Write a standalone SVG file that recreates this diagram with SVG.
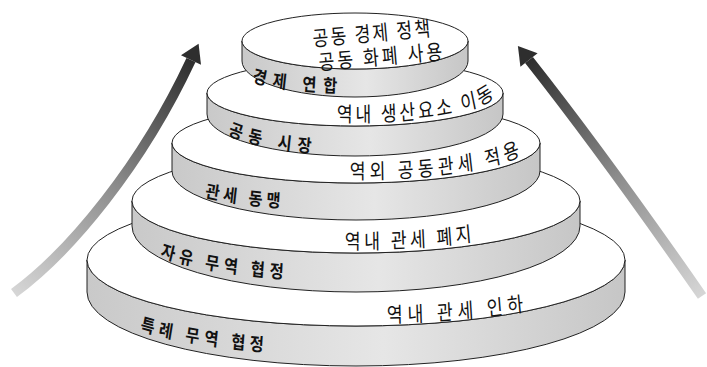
<svg xmlns="http://www.w3.org/2000/svg" width="707" height="367" viewBox="0 0 707 367">
<defs>
<style>
.side{fill:url(#sideGrad);stroke:#222;stroke-width:1}
.top{fill:#fff;stroke:#222;stroke-width:1}
.face{font-family:"Noto Sans CJK KR","Noto Sans",sans-serif;font-size:21px;fill:#111}
.lbl{font-family:"Noto Sans CJK KR","Noto Sans",sans-serif;font-size:18px;font-weight:bold;fill:#111}
.band{fill:none;stroke-width:10;stroke-linecap:butt}
.head{fill:#2e2e2e}
</style>
<linearGradient id="sideGrad" x1="0" y1="0" x2="1" y2="0">
<stop offset="0" stop-color="#c9c9c9"/>
<stop offset="0.55" stop-color="#e6e6e6"/>
<stop offset="1" stop-color="#c6c6c6"/>
</linearGradient>
<linearGradient id="gL" gradientUnits="userSpaceOnUse" x1="14" y1="293" x2="191" y2="60">
<stop offset="0" stop-color="#d6d6d6"/>
<stop offset="0.5" stop-color="#8c8c8c"/>
<stop offset="1" stop-color="#2e2e2e"/>
</linearGradient>
<linearGradient id="gR" gradientUnits="userSpaceOnUse" x1="702" y1="296" x2="529" y2="60">
<stop offset="0" stop-color="#d6d6d6"/>
<stop offset="0.5" stop-color="#8c8c8c"/>
<stop offset="1" stop-color="#2e2e2e"/>
</linearGradient>
<path id="p1a" d="M 471.95 322.6 A 353.66 64 0 0 0 731.71 293.6"/>
<path id="p1b" d="M 164.71 330.4 A 316.47 61 0 0 0 418.82 355"/>
<path id="p2a" d="M 420.73 248.9 A 262.2 49 0 0 0 692.32 208.5"/>
<path id="p2b" d="M 188.24 256.4 A 263.53 47.4 0 0 0 418.82 280.9"/>
<path id="p3a" d="M 426.83 179 A 214.63 37 0 0 0 645.49 135.6"/>
<path id="p3b" d="M 241.18 197.1 A 216.47 30.7 0 0 0 418.82 210.2"/>
<path id="p4a" d="M 410.98 121.75 A 170.73 30 0 0 0 593.41 81.7"/>
<path id="p4b" d="M 268.24 134.6 A 174.12 41 0 0 0 417.65 154.5"/>
<path id="p5b" d="M 296.47 81.5 A 132.94 19.2 0 0 0 417.65 92.8"/>
</defs>
<rect width="707" height="367" fill="#fff"/>

<g id="arrows">
<path class="band" stroke="url(#gL)" d="M 14 293 C 70 252, 142 165, 191 60"/>
<polygon class="head" points="198.6,43.7 201,64.7 181,55.3"/>
<path class="band" stroke="url(#gR)" d="M 702 296 C 670 250, 600 150, 529 60"/>
<polygon class="head" points="517.9,45.9 537.6,53.2 520.4,66.8"/>
</g>

<g id="tier1">
<path class="side" d="M 87 260 L 87 292 A 269 74 0 0 0 625 292 L 625 260 A 269 66 0 0 1 87 260 Z"/>
<ellipse class="top" cx="356" cy="260" rx="269" ry="66"/>
<text class="face" transform="scale(0.82 1)"><textPath href="#p1a" textLength="167" lengthAdjust="spacing">역내 관세 인하</textPath></text>
<text class="lbl" transform="scale(0.85 1)"><textPath href="#p1b" textLength="147" lengthAdjust="spacing">특례 무역 협정</textPath></text>
</g>

<g id="tier2">
<path class="side" d="M 132 201 L 132 226 A 224 66 0 0 0 580 226 L 580 201 A 224 52 0 0 1 132 201 Z"/>
<ellipse class="top" cx="356" cy="201" rx="224" ry="52"/>
<text class="face" transform="scale(0.82 1)"><textPath href="#p2a" textLength="155" lengthAdjust="spacing">역내 관세 폐지</textPath></text>
<text class="lbl" transform="scale(0.85 1)"><textPath href="#p2b" textLength="147" lengthAdjust="spacing">자유 무역 협정</textPath></text>
</g>

<g id="tier3">
<path class="side" d="M 172 143 L 172 171 A 184 49 0 0 0 540 171 L 540 143 A 184 40 0 0 1 172 143 Z"/>
<ellipse class="top" cx="356" cy="143" rx="184" ry="40"/>
<text class="face" transform="scale(0.82 1)"><textPath href="#p3a" textLength="210" lengthAdjust="spacing">역외 공동관세 적용</textPath></text>
<text class="lbl" transform="scale(0.85 1)"><textPath href="#p3b" textLength="89" lengthAdjust="spacing">관세 동맹</textPath></text>
</g>

<g id="tier4">
<path class="side" d="M 207 93 L 207 114 A 148 42 0 0 0 503 114 L 503 93 A 148 33 0 0 1 207 93 Z"/>
<ellipse class="top" cx="355" cy="93" rx="148" ry="33"/>
<text class="face" transform="scale(0.82 1)"><textPath href="#p4a" textLength="195" lengthAdjust="spacing">역내 생산요소 이동</textPath></text>
<text class="lbl" transform="scale(0.85 1)"><textPath href="#p4b" textLength="100" lengthAdjust="spacing">공동 시장</textPath></text>
</g>

<g id="tier5">
<path class="side" d="M 242 41 L 242 61 A 113 36 0 0 0 468 61 L 468 41 A 113 28 0 0 1 242 41 Z"/>
<ellipse class="top" cx="355" cy="41" rx="113" ry="28"/>
<text class="face" x="453.66" y="41" text-anchor="middle" textLength="143.9" lengthAdjust="spacing" transform="rotate(-5 372 41) scale(0.82 1)">공동 경제 정책</text>
<text class="face" x="464.63" y="64.5" text-anchor="middle" textLength="151.2" lengthAdjust="spacing" transform="rotate(-5 381 64.5) scale(0.82 1)">공동 화폐 사용</text>
<text class="lbl" transform="scale(0.85 1)"><textPath href="#p5b" textLength="101" lengthAdjust="spacing">경제 연합</textPath></text>
</g>
</svg>
